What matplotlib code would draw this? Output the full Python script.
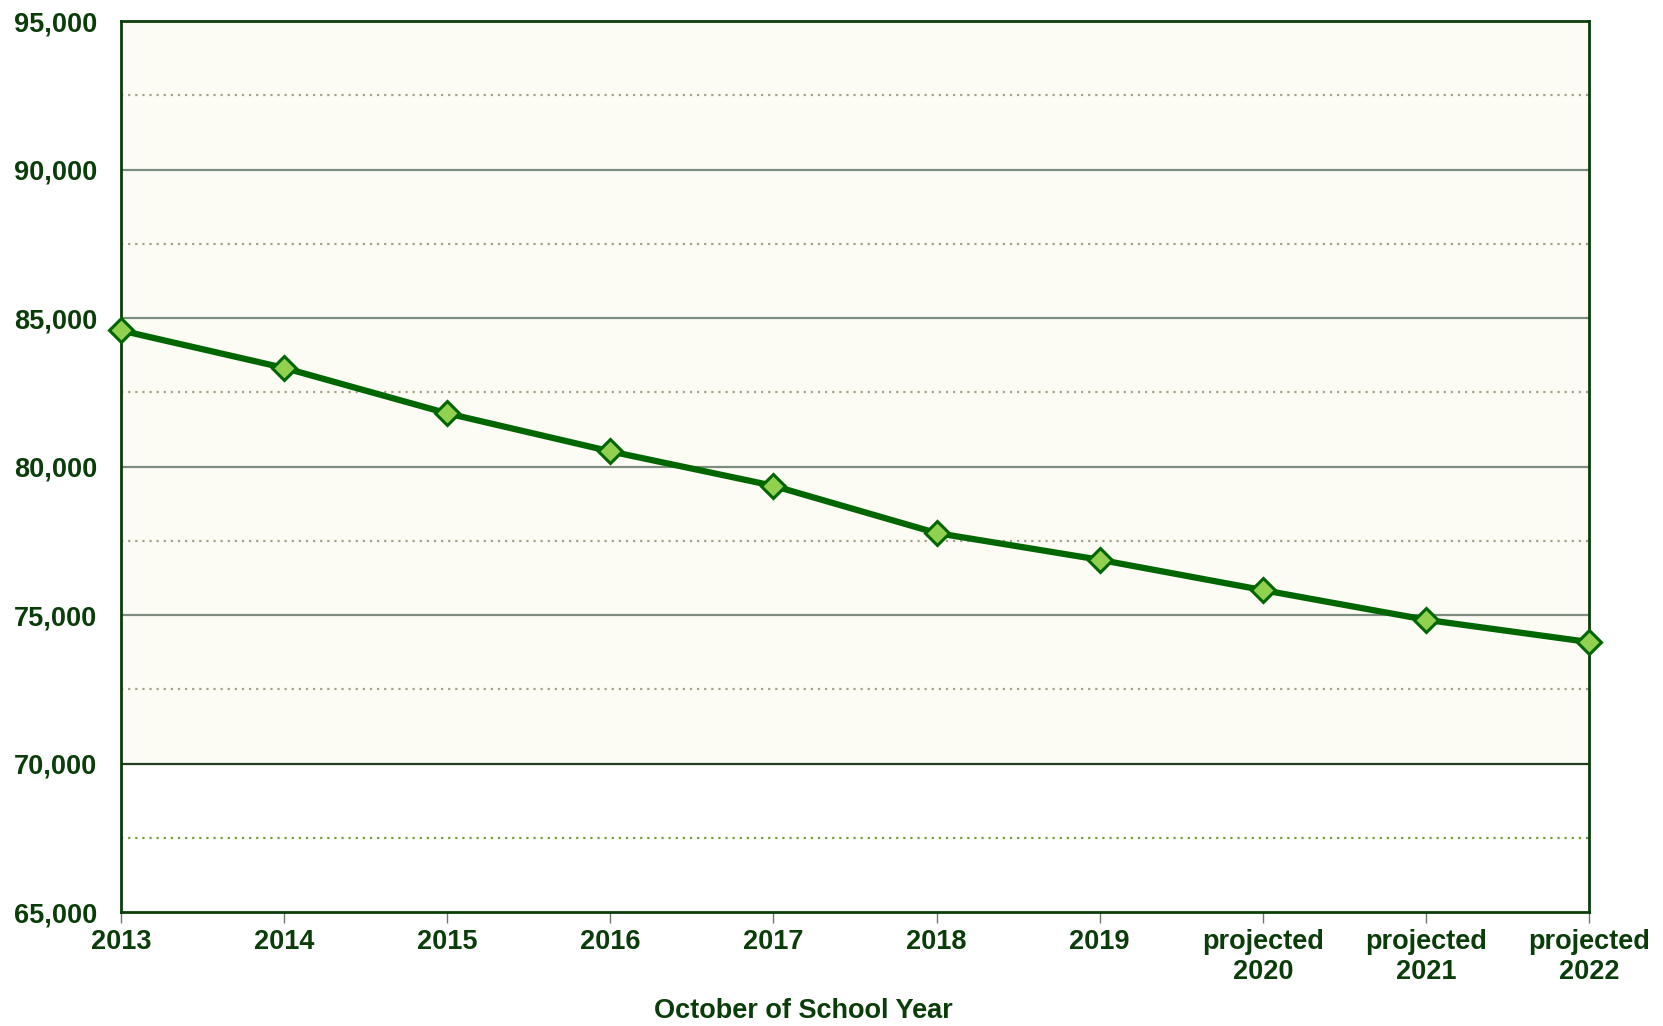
import matplotlib.pyplot as plt
from matplotlib.ticker import FuncFormatter

years = ["2013", "2014", "2015", "2016", "2017", "2018", "2019",
         "projected\n2020", "projected\n2021", "projected\n2022"]
enrollment = [84580, 83320, 81790, 80510, 79350, 77760, 76860, 75840, 74840, 74090]

y_min = 65000
y_max = 95000
band_low = 70000

text_col = "#0b3d0b"
line_col = "#006600"
marker_fill = "#92d050"

plt.rcParams['font.family'] = ['Liberation Sans', 'DejaVu Sans']
plt.rcParams['font.weight'] = 'bold'

fig = plt.figure(figsize=(16.63, 10.26), dpi=100)
ax = fig.add_axes([0.0728, 0.1111, 0.8827, 0.8684])

x = list(range(len(years)))

# cream band only above 70,000
ax.axhspan(band_low, y_max, color="#fcfcf4", zorder=0)

# gridlines
for v in range(y_min + 5000, y_max, 5000):
    col = "#1f3f1f" if v == band_low else "#7d8d7d"
    ax.axhline(v, color=col, lw=1.6, zorder=1)
for v in range(y_min + 2500, y_max, 5000):
    col = "#a3a38a" if v > band_low else "#7a9a3a"
    ax.axhline(v, color=col, lw=1.6, ls=(0, (1, 2.2)), zorder=1)

ax.plot(x, enrollment, color=line_col, lw=4.5, marker="D", markersize=12.5,
        markerfacecolor=marker_fill, markeredgecolor=line_col, markeredgewidth=2.2,
        zorder=3, clip_on=False)

ax.set_xlim(0, len(years) - 1)
ax.set_ylim(y_min, y_max)
ax.set_yticks(range(y_min, y_max + 1, 5000))
ax.yaxis.set_major_formatter(FuncFormatter(lambda v, p: f"{int(v):,}"))
ax.set_xticks(x)
ax.set_xticklabels(years)

ax.tick_params(axis="y", length=0, pad=17, labelsize=19.5, labelcolor=text_col)
ax.tick_params(axis="x", length=8, width=1, color="#6b7b6b", pad=4,
               labelsize=19.5, labelcolor=text_col)
for lab in ax.get_xticklabels() + ax.get_yticklabels():
    lab.set_fontweight("bold")
for lab in ax.get_xticklabels():
    lab.set_linespacing(1.2)

for s in ax.spines.values():
    s.set_color("#0b3d0b")
    s.set_linewidth(2)
    s.set_zorder(2)

ax.set_xlabel("October of School Year", fontsize=19.5, fontweight="bold",
              color=text_col)
ax.xaxis.set_label_coords(0.4646, -0.097)

fig.savefig("out.png", dpi=100)
